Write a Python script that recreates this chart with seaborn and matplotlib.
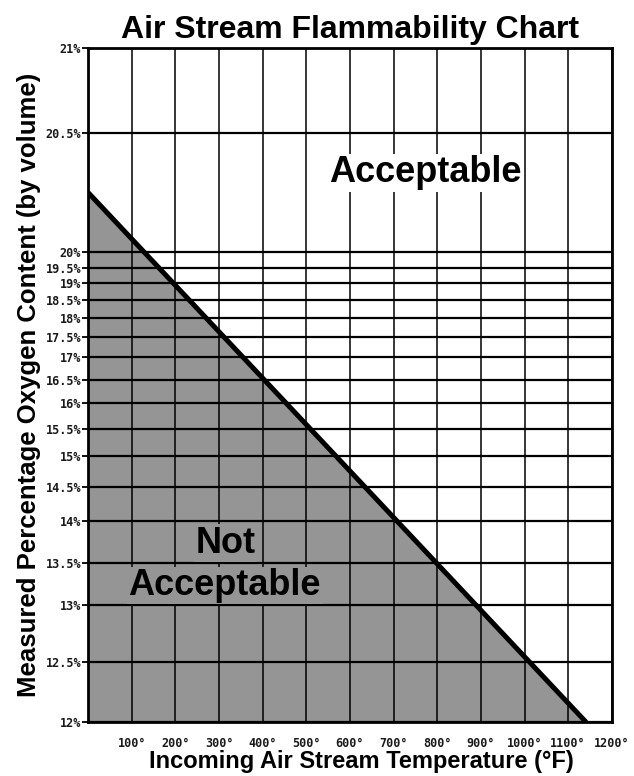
import matplotlib
matplotlib.use("Agg")
import matplotlib.pyplot as plt
import numpy as np
import pandas as pd
import seaborn as sns

# y axis of the chart is not linear: oxygen levels and where each sits up the axis (0 = 12%, 1 = 21%)
o2_levels = [12, 12.5, 13, 13.5, 14, 14.5, 15, 15.5, 16, 16.5, 17, 17.5, 18, 18.5, 19, 19.5, 20, 20.5, 21]
o2_axis_pos = [0, 60, 117, 159, 201, 235, 266, 293, 319, 342, 365, 385, 404, 422, 439, 454, 470, 589, 674]
o2_labels = ["12%", "12.5%", "13%", "13.5%", "14%", "14.5%", "15%", "15.5%", "16%", "16.5%", "17%",
             "17.5%", "18%", "18.5%", "19%", "19.5%", "20%", "20.5%", "21%"]

temp_ticks = [0, 100, 200, 300, 400, 500, 600, 700, 800, 900, 1000, 1100, 1200]
temp_labels = ["", "100°", "200°", "300°", "400°", "500°", "600°", "700°", "800°", "900°",
               "1000°", "1100°", "1200°"]

# flammability limit line
limit_temp = [0, 1140]
limit_o2 = [20.25, 12]

sns.set_style("white")
plt.rcParams['font.family'] = ['Liberation Sans', 'DejaVu Sans']
plt.rcParams['text.color'] = 'black'
plt.rcParams['axes.labelcolor'] = 'black'

pos = np.array(o2_axis_pos) / o2_axis_pos[-1]
fwd = lambda v: np.interp(v, o2_levels, pos)
inv = lambda p: np.interp(p, pos, o2_levels)

fig = plt.figure(figsize=(6.34, 7.76), dpi=100)
ax = fig.add_axes([0.139, 0.070, 0.826, 0.868])
ax.set_yscale('function', functions=(fwd, inv))

df = pd.DataFrame({"temp": limit_temp, "o2": limit_o2})
ax.fill_between(df["temp"], 12, df["o2"], color="#959595", lw=0, zorder=1)
sns.lineplot(data=df, x="temp", y="o2", ax=ax, color="black", lw=3.6, zorder=4)

ax.set_xlim(0, 1200)
ax.set_ylim(12, 21)
ax.set_xticks(temp_ticks)
ax.set_xticklabels(temp_labels)
ax.set_yticks(o2_levels)
ax.set_yticklabels(o2_labels)
ax.minorticks_off()

ax.set_axisbelow(False)
ax.xaxis.grid(True, color="black", lw=1.1)
ax.yaxis.grid(True, color="black", lw=1.6)
for s in ax.spines.values():
    s.set_color("black")
    s.set_linewidth(2)

ax.tick_params(axis="y", length=4, width=1.3, color="black", pad=1, left=True)
ax.tick_params(axis="x", length=0, pad=11, bottom=True)
for lab in ax.get_xticklabels() + ax.get_yticklabels():
    lab.set_family("DejaVu Sans Mono")
    lab.set_fontsize(8.5)
    lab.set_fontweight("bold")
    lab.set_color("#1a1a1a")

ax.set_title("Air Stream Flammability Chart", fontsize=23, fontweight="bold", pad=7)
ax.set_xlabel("Incoming Air Stream Temperature (°F)", fontsize=17, fontweight="bold")
ax.xaxis.set_label_coords(0.522, -0.042)
ax.set_ylabel("Measured Percentage Oxygen Content (by volume)", fontsize=18.5, fontweight="bold", labelpad=3)

big = dict(fontsize=26, fontweight="bold", ha="center", va="baseline", transform=ax.transAxes, zorder=5)
ax.text(0.643, 0.801, "Acceptable", bbox=dict(facecolor="white", edgecolor="none", pad=1), **big)
ax.text(0.263, 0.251, "Not", bbox=dict(facecolor="#959595", edgecolor="none", pad=1), **big)
ax.text(0.261, 0.188, "Acceptable", bbox=dict(facecolor="#959595", edgecolor="none", pad=1), **big)

fig.savefig("out.png", dpi=100)
